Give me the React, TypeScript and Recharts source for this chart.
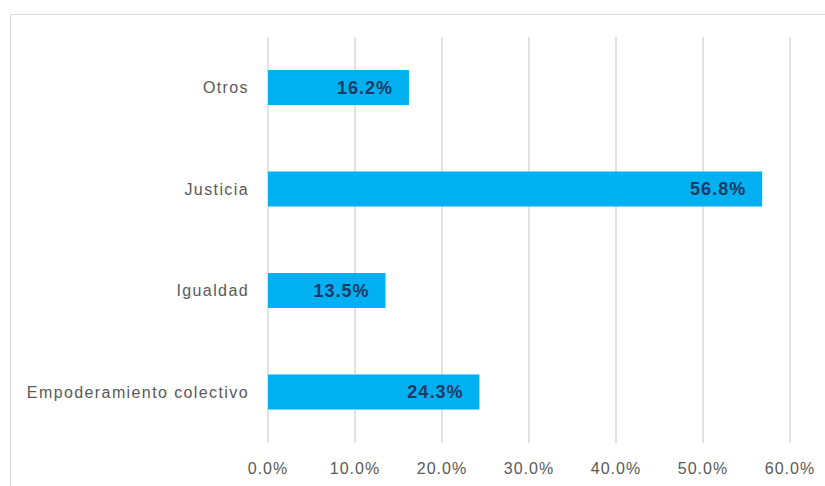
import React from 'react';
import { BarChart, Bar, XAxis, YAxis, CartesianGrid, LabelList } from 'recharts';

const categories = ['Otros', 'Justicia', 'Igualdad', 'Empoderamiento colectivo'];
const values = [16.2, 56.8, 13.5, 24.3];
const xTicks = [0, 10, 20, 30, 40, 50, 60];

const data = categories.map((name, i) => ({ name, value: values[i] }));

const FONT = '"Liberation Sans", Arial, sans-serif';

export default function App() {
  return (
    <div style={{ position: 'absolute', left: 0, top: 0, width: 825, height: 486, background: '#fff', overflow: 'hidden' }}>
      <div style={{ position: 'absolute', left: 10, top: 14, width: 900, height: 600, border: '1px solid #d9d9d9' }} />
      <div style={{ position: 'absolute', left: 0, top: 0 }}>
        <BarChart
          width={825}
          height={486}
          data={data}
          layout="vertical"
          margin={{ top: 37, right: 35, bottom: 0, left: 0 }}
        >
          <CartesianGrid horizontal={false} vertical={true} stroke="#d9d9d9" strokeWidth={1.5} />
          <XAxis
            type="number"
            domain={[0, 60]}
            ticks={xTicks}
            height={43}
            axisLine={false}
            tickLine={false}
            tickSize={0}
            tickMargin={20}
            interval={0}
            tickFormatter={(v: number) => `${v.toFixed(1)}%`}
            tick={{ fill: '#595959', fontSize: 16, fontFamily: FONT, letterSpacing: 1 }}
          />
          <YAxis
            type="category"
            dataKey="name"
            width={268}
            axisLine={false}
            tickLine={false}
            tickSize={0}
            tickMargin={19}
            interval={0}
            tick={{ fill: '#595959', fontSize: 16, fontFamily: FONT, letterSpacing: 1.4 }}
          />
          <Bar dataKey="value" fill="#00B0F0" barSize={35} isAnimationActive={false}>
            <LabelList
              dataKey="value"
              position="insideRight"
              offset={16}
              formatter={(v: number) => `${Number(v).toFixed(1)}%`}
              style={{ fill: '#1F3864', fontSize: 18, fontWeight: 'bold', fontFamily: FONT, letterSpacing: 1 }}
            />
          </Bar>
        </BarChart>
      </div>
    </div>
  );
}
